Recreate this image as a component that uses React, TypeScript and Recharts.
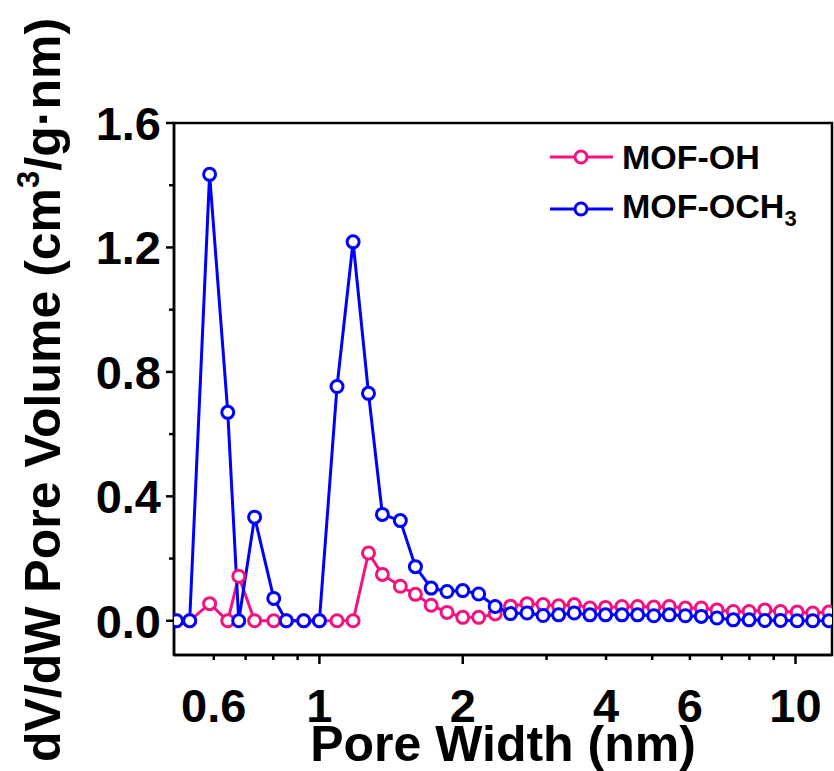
import {
  Legend,
  Line,
  LineChart,
  ReferenceArea,
  XAxis,
  YAxis,
} from 'recharts';

const FONT = '"Liberation Sans", Arial, sans-serif';

// pore width (nm)
const poreWidth = [
  0.501, 0.534, 0.588, 0.642, 0.677, 0.731, 0.802, 0.852, 0.927, 1.0, 1.089,
  1.177, 1.268, 1.356, 1.479, 1.591, 1.717, 1.854, 2.0, 2.16, 2.34, 2.52, 2.73,
  2.95, 3.18, 3.43, 3.7, 3.99, 4.32, 4.66, 5.04, 5.43, 5.87, 6.34, 6.84, 7.4,
  7.99, 8.62, 9.3, 10.08, 10.87, 11.75,
];

const mofOH = [
  0, 0, 0.055, 0, 0.143, 0, 0, 0, 0, 0, 0, 0, 0.218, 0.149, 0.111, 0.085, 0.05,
  0.027, 0.011, 0.011, 0.022, 0.047, 0.055, 0.052, 0.048, 0.052, 0.041, 0.043,
  0.046, 0.046, 0.044, 0.046, 0.041, 0.041, 0.035, 0.03, 0.03, 0.035, 0.03,
  0.028, 0.025, 0.028,
];

const mofOCH3 = [
  0, 0, 1.435, 0.67, 0, 0.333, 0.072, 0, 0, 0, 0.753, 1.218, 0.731, 0.342,
  0.322, 0.174, 0.105, 0.094, 0.097, 0.086, 0.046, 0.023, 0.025, 0.017, 0.019,
  0.025, 0.019, 0.019, 0.019, 0.019, 0.016, 0.019, 0.016, 0.014, 0.009, 0.003,
  0.003, 0.001, 0.001, 0, 0, 0,
];

const seriesNames = ['MOF-OH', 'MOF-OCH3'];
const seriesColors = ['#f5127f', '#0000ff'];

const xTicks = [0.6, 0.7, 0.8, 0.9, 1, 2, 3, 4, 5, 6, 7, 8, 9, 10];
const xLabels = [0.6, 1, 2, 4, 6, 10];
const xMajor = [1, 2, 10];
const yTicks = [0, 0.2, 0.4, 0.6, 0.8, 1.0, 1.2, 1.4, 1.6];
const yLabels = [0, 0.4, 0.8, 1.2, 1.6];

const data = poreWidth.map((w, i) => ({ w, oh: mofOH[i], och3: mofOCH3[i] }));

function XTick({ x, y, payload }: any) {
  const v = payload.value;
  const major = xMajor.includes(v);
  return (
    <g>
      <line x1={x} x2={x} y1={y} y2={y + (major ? 9 : 5)} stroke="#000" strokeWidth={2.5} />
      {xLabels.includes(v) && (
        <text
          x={x}
          y={y + 67}
          textAnchor="middle"
          fontSize={47}
          fontWeight="bold"
          fontFamily={FONT}
          fill="#000"
        >
          {v}
        </text>
      )}
    </g>
  );
}

function YTick({ x, y, payload }: any) {
  const v = payload.value;
  const major = yLabels.some((l) => Math.abs(l - v) < 1e-6);
  return (
    <g>
      <line x1={x} x2={x - (major ? 8 : 5)} y1={y} y2={y} stroke="#000" strokeWidth={2.5} />
      {major && (
        <text
          x={x - 13}
          y={y}
          dy="0.36em"
          textAnchor="end"
          fontSize={47}
          fontWeight="bold"
          fontFamily={FONT}
          fill="#000"
        >
          {v.toFixed(1)}
        </text>
      )}
    </g>
  );
}

function YTitle() {
  return (
    <text
      transform="translate(60, 390) rotate(-90)"
      textAnchor="middle"
      fontSize={50}
      fontWeight="bold"
      fontFamily={FONT}
      fill="#000"
    >
      dV/dW Pore Volume (cm
      <tspan fontSize={31} dy={-21}>3</tspan>
      <tspan dy={21}>/g·nm)</tspan>
    </text>
  );
}

function withSub(name: string) {
  return name.split(/(\d+)/).map((part, i) =>
    /\d/.test(part) ? (
      <sub key={i} style={{ fontSize: 22, verticalAlign: -8 }}>{part}</sub>
    ) : (
      <span key={i}>{part}</span>
    )
  );
}

function LegendBox({ payload }: any) {
  const items = [...(payload || [])].sort(
    (a: any, b: any) => seriesNames.indexOf(a.value) - seriesNames.indexOf(b.value)
  );
  return (
    <div style={{ fontFamily: FONT, fontWeight: 'bold', fontSize: 34 }}>
      {items.map((p: any) => (
        <div key={p.value} style={{ display: 'flex', alignItems: 'center', height: 52 }}>
          <svg width={74} height={20} style={{ overflow: 'visible' }}>
            <line x1={2} x2={65} y1={10} y2={10} stroke={p.color} strokeWidth={3} />
            <circle cx={33} cy={10} r={6} fill="#fff" stroke={p.color} strokeWidth={3} />
          </svg>
          <span style={{ lineHeight: 1 }}>{withSub(p.value)}</span>
        </div>
      ))}
    </div>
  );
}

export default function App() {
  return (
    <div style={{ position: 'absolute', left: 0, top: 0, background: '#fff' }}>
      <LineChart
        width={834}
        height={771}
        data={data}
        margin={{ top: 123, right: 2, left: 0, bottom: 0 }}
      >
        <ReferenceArea
          x1={0.495}
          x2={11.93}
          y1={-0.11}
          y2={1.6}
          fill="none"
          stroke="#000"
          strokeWidth={2.5}
          ifOverflow="visible"
        />
        <XAxis
          dataKey="w"
          type="number"
          scale="log"
          domain={[0.495, 11.93]}
          ticks={xTicks}
          allowDataOverflow
          height={116}
          tickSize={0}
          tickMargin={0}
          axisLine={{ stroke: '#000', strokeWidth: 2.5 }}
          tick={<XTick />}
          interval={0}
        />
        <YAxis
          type="number"
          domain={[-0.11, 1.6]}
          ticks={yTicks}
          allowDataOverflow
          width={174}
          tickSize={0}
          tickMargin={0}
          axisLine={{ stroke: '#000', strokeWidth: 2.5 }}
          tick={<YTick />}
          interval={0}
          label={{ content: () => <YTitle /> }}
        />
        <Legend
          layout="vertical"
          align="center"
          verticalAlign="middle"
          wrapperStyle={{ left: 548, top: 131, width: 280 }}
          content={<LegendBox />}
        />
        <Line
          dataKey="oh"
          name={seriesNames[0]}
          stroke={seriesColors[0]}
          strokeWidth={3}
          dot={{ r: 6, fill: '#fff', stroke: seriesColors[0], strokeWidth: 3 }}
          isAnimationActive={false}
        />
        <Line
          dataKey="och3"
          name={seriesNames[1]}
          stroke={seriesColors[1]}
          strokeWidth={3}
          dot={{ r: 6, fill: '#fff', stroke: seriesColors[1], strokeWidth: 3 }}
          isAnimationActive={false}
        />
      </LineChart>
      <div
        style={{
          position: 'absolute',
          left: 174,
          width: 658,
          top: 719,
          textAlign: 'center',
          fontFamily: FONT,
          fontWeight: 'bold',
          fontSize: 50,
          lineHeight: 1,
        }}
      >
        Pore Width (nm)
      </div>
    </div>
  );
}
